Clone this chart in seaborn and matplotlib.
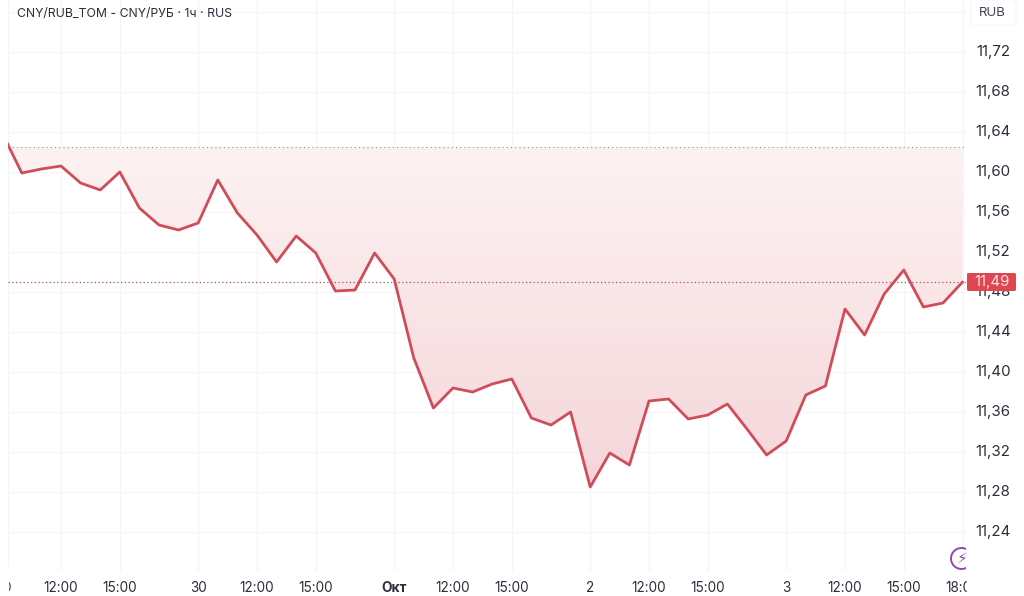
import numpy as np
import pandas as pd
import seaborn as sns
import matplotlib.pyplot as plt
from matplotlib.colors import LinearSegmentedColormap
from matplotlib.patches import Ellipse, FancyBboxPatch, Polygon, Rectangle

title = "CNY/RUB_TOM - CNY/РУБ · 1ч · RUS"
prices = [11.639, 11.599, 11.603, 11.606, 11.589, 11.582, 11.600, 11.564, 11.547, 11.542,
          11.549, 11.592, 11.559, 11.537, 11.510, 11.536, 11.519, 11.481, 11.482, 11.519,
          11.493, 11.414, 11.364, 11.384, 11.380, 11.388, 11.393, 11.354, 11.347, 11.360,
          11.285, 11.319, 11.307, 11.371, 11.373, 11.353, 11.357, 11.368, 11.343, 11.317,
          11.331, 11.377, 11.386, 11.463, 11.437, 11.478, 11.502, 11.465, 11.469, 11.490]
base_price = 11.625
last_price = 11.49
y_ticks = [11.24, 11.28, 11.32, 11.36, 11.40, 11.44, 11.48, 11.52, 11.56, 11.60, 11.64, 11.68, 11.72]
x_tick_pos = [0, 3, 6, 10, 13, 16, 20, 23, 26, 30, 33, 36, 40, 43, 46, 49]
x_tick_labels = ["0", "12:00", "15:00", "30", "12:00", "15:00", "Окт", "12:00", "15:00",
                 "2", "12:00", "15:00", "3", "12:00", "15:00", "18:00"]

RED = "#d04c58"
GREY = "#f5f5f6"
TEXT = "#2a2e39"
PURPLE = "#8e4aa6"

sns.set_theme(style="white")
plt.rcParams['font.family'] = ['Inter', 'DejaVu Sans']

W, H = 1024, 596
BAR_PX = 19.6
BAR0_PX = 2.2
fig = plt.figure(figsize=(W / 100, H / 100), dpi=100)
# plot area in pixels: x 8..966, y 0..571
ax = fig.add_axes([8 / W, 1 - 571 / H, 958 / W, 571 / H])

df = pd.DataFrame({"bar": np.arange(len(prices)), "price": prices})

xlim = ((8 - BAR0_PX) / BAR_PX, (966 - BAR0_PX) / BAR_PX)
ylim = (11.24 - (571 - 532) / 1000, 11.24 + 532 / 1000)

ax.set_yticks(y_ticks + [11.76])
ax.set_xticks(x_tick_pos[1:] + [xlim[0]])
ax.grid(True, color=GREY, linewidth=1)
ax.set_axisbelow(True)
ax.tick_params(length=0, labelbottom=False, labelleft=False)
sns.despine(ax=ax, left=True, bottom=True, right=True, top=True)

# gradient between baseline and line
cmap = LinearSegmentedColormap.from_list("fade", ["#fdf2f2", "#f5d6da"])
grad = ax.imshow(np.linspace(0, 1, 256).reshape(-1, 1), cmap=cmap, aspect="auto", origin="upper",
                 extent=[0, len(prices) - 1, min(prices), base_price], zorder=1)
verts = np.vstack([[[0, base_price]], df[["bar", "price"]].values, [[len(prices) - 1, base_price]]])
clip = Polygon(verts, closed=True, transform=ax.transData, facecolor="none", edgecolor="none")
ax.add_patch(clip)
grad.set_clip_path(clip)

sns.lineplot(data=df, x="bar", y="price", ax=ax, color=RED, linewidth=2, zorder=3)
ax.set_xlabel("")
ax.set_ylabel("")
ax.set_xlim(xlim)
ax.set_ylim(ylim)

ax.axhline(base_price, color="#8a8f98", linewidth=0.8, linestyle=(0, (1, 2.8)), zorder=2)

# lightning badge, cut by the plot edge
to_x = lambda px: (px - BAR0_PX) / BAR_PX
to_y = lambda py: 11.24 + (532 - py) / 1000
badge = Ellipse((to_x(961.5), to_y(558.5)), 21 / BAR_PX, 0.021, facecolor="white", edgecolor=PURPLE,
                linewidth=1.4, zorder=4)
ax.add_patch(badge)
ax.text(to_x(962), to_y(558.5), "⚡", fontsize=11, color=PURPLE, ha="center", va="center", zorder=5,
        family="DejaVu Sans", fontweight="bold", clip_on=True)

# time scale labels, cropped by the plot edges like on the original
for pos, lab in zip(x_tick_pos, x_tick_labels):
    weight = "bold" if lab == "Окт" else "normal"
    if pos == 0:
        fig.text(10.5 / W, 1 - 588 / H, lab, fontsize=9.8, color=TEXT, ha="right", va="center")
        continue
    fig.text((BAR0_PX + BAR_PX * pos) / W, 1 - 588 / H, lab, fontsize=9.8, color=TEXT, ha="center",
             va="center", fontweight=weight)

fig.patches.append(Rectangle((967 / W, 0), 57 / W, 0.05, transform=fig.transFigure, color="white", zorder=5))
fig.patches.append(Rectangle((0, 0), 7.5 / W, 0.05, transform=fig.transFigure, color="white", zorder=5))

# price scale
for t in y_ticks:
    fig.text(993 / W, ax.transData.transform((0, t))[1] / H, f"{t:.2f}".replace(".", ","),
             fontsize=10.8, color=TEXT, ha="center", va="center", zorder=6)

# last price line and tag
ax.axhline(last_price, color="#c04a55", linewidth=0.9, linestyle=(0, (1, 2)), zorder=2)
tag_y = ax.transData.transform((0, last_price))[1] / H
fig.patches.append(FancyBboxPatch((967 / W, tag_y - 9 / H), 49 / W, 18 / H, transform=fig.transFigure,
                                  boxstyle="round,pad=0,rounding_size=0.002", facecolor="#df4650",
                                  edgecolor="none", zorder=7))
fig.text(992 / W, tag_y, f"{last_price:.2f}".replace(".", ","), fontsize=10.8, color="#fbe3e4",
         ha="center", va="center", zorder=8)

# currency box
fig.patches.append(FancyBboxPatch((971 / W, 1 - 25 / H), 45 / W, 25 / H, transform=fig.transFigure,
                                  boxstyle="round,pad=0,rounding_size=0.003", facecolor="white",
                                  edgecolor="#f9f9fa", linewidth=1, zorder=7))
fig.text(17 / W, 1 - 13.5 / H, title, fontsize=8.8, color=TEXT, ha="left", va="center", zorder=8)
fig.text(992.5 / W, 1 - 13.5 / H, "RUB", fontsize=9.5, color="#434752", ha="center", va="center", zorder=8)

fig.savefig("out.png", dpi=100)
